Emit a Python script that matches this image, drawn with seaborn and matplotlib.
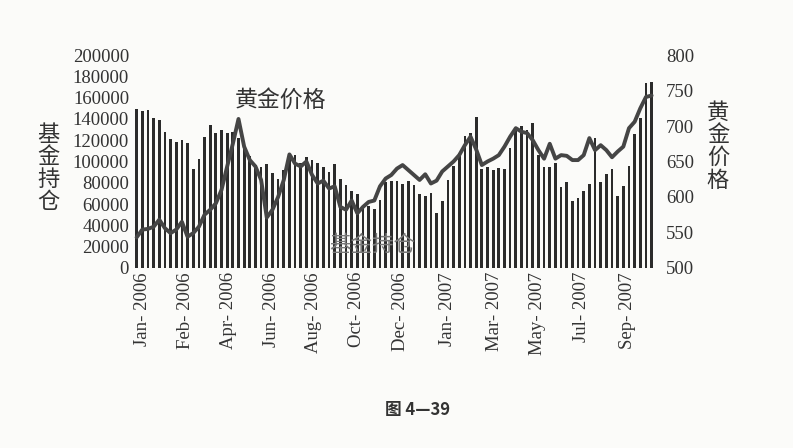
import numpy as np
import seaborn as sns
import matplotlib.pyplot as plt

# weekly fund holdings (bars, left axis)
holdings = [149000, 147000, 148000, 141000, 139000, 128000, 121000, 118000, 120000, 117000,
            93000, 102000, 123000, 134000, 127000, 130000, 127000, 128000, 122000, 112000,
            105000, 97000, 95000, 98000, 89000, 84000, 92000, 104000, 106000, 99000,
            104000, 101000, 99000, 95000, 90000, 98000, 84000, 78000, 72000, 69000,
            58000, 58000, 55000, 64000, 81000, 82000, 82000, 79000, 82000, 78000,
            69000, 68000, 70000, 52000, 63000, 83000, 96000, 108000, 124000, 127000,
            142000, 93000, 95000, 92000, 94000, 93000, 113000, 131000, 133000, 130000,
            136000, 106000, 95000, 95000, 99000, 76000, 81000, 63000, 66000, 72000,
            79000, 122000, 81000, 88000, 93000, 68000, 77000, 96000, 126000, 141000,
            174000, 175000]

# weekly gold price (line, right axis)
gold = [543, 554, 555, 558, 568, 556, 549, 554, 565, 544,
        549, 558, 575, 582, 591, 610, 643, 675, 710, 671,
        652, 643, 624, 571, 582, 600, 624, 660, 647, 643,
        650, 631, 619, 623, 612, 615, 586, 582, 595, 577,
        586, 593, 595, 615, 626, 631, 640, 645, 638, 631,
        624, 632, 619, 623, 636, 643, 650, 659, 673, 685,
        667, 645, 650, 654, 659, 671, 685, 697, 692, 690,
        680, 666, 654, 675, 654, 659, 658, 652, 652, 659,
        683, 666, 673, 666, 656, 664, 671, 697, 706, 725,
        741, 743]

tick_labels = ["Jan- 2006", "Feb- 2006", "Apr- 2006", "Jun- 2006", "Aug- 2006", "Oct- 2006",
               "Dec- 2006", "Jan- 2007", "Mar- 2007", "May- 2007", "Jul- 2007", "Sep- 2007"]
tick_pos = [1.0, 8.6, 16.2, 23.9, 31.2, 38.9, 46.6, 55.0, 63.3, 70.9, 78.6, 86.8]

sns.set_style("white")
plt.rcParams['font.family'] = ['Liberation Serif', 'Noto Sans CJK SC']
cjk = ['Noto Sans CJK SC', 'DejaVu Sans']

weeks = np.arange(len(holdings))

fig = plt.figure(figsize=(7.93, 4.48), dpi=100)
fig.patch.set_facecolor('#fbfbf9')
ax = fig.add_axes([0.168, 0.402, 0.658, 0.475])
ax.set_facecolor('none')

sns.barplot(x=weeks, y=holdings, ax=ax, color='#2b2b2b', width=0.48,
            saturation=1, edgecolor='none')
ax.set_xlim(-0.6, len(holdings) - 0.4)
ax.set_ylim(0, 200000)
ax.set_yticks(range(0, 200001, 20000))
ax.set_yticklabels([str(v) for v in range(0, 200001, 20000)], fontsize=13.5, color='#333333')
ax.set_xticks(tick_pos)
ax.set_xticklabels(tick_labels, rotation=90, fontsize=13.5, color='#333333')
ax.tick_params(axis='both', length=0, pad=3)
ax.set_xlabel('')
for s in ax.spines.values():
    s.set_visible(False)

ax2 = ax.twinx()
sns.lineplot(x=weeks, y=gold, ax=ax2, color='#454545', linewidth=2.8)
ax2.set_ylim(500, 800)
ax2.set_yticks(range(500, 801, 50))
ax2.set_yticklabels([str(v) for v in range(500, 801, 50)], fontsize=13.5, color='#333333')
ax2.tick_params(axis='y', length=0, pad=8)
for s in ax2.spines.values():
    s.set_visible(False)

fig.text(48 / 793, 1 - 168 / 448, "基\n金\n持\n仓", family=cjk, fontsize=16,
         ha='center', va='center', linespacing=0.98, color='#333333')
fig.text(718 / 793, 1 - 146 / 448, "黄\n金\n价\n格", family=cjk, fontsize=16,
         ha='center', va='center', linespacing=0.98, color='#333333')
fig.text(281 / 793, 1 - 100 / 448, "黄金价格", family=cjk, fontsize=16.5,
         ha='center', va='center', color='#333333')
fig.text(372 / 793, 1 - 245 / 448, "基金持仓", family=cjk, fontsize=15.5,
         ha='center', va='center', color='#7a7a7a')
fig.text(418 / 793, 1 - 410 / 448, "图 4—39", family=cjk, fontsize=12,
         fontweight='bold', ha='center', va='center', color='#333333')

fig.savefig('out.png', dpi=100, facecolor=fig.get_facecolor())
